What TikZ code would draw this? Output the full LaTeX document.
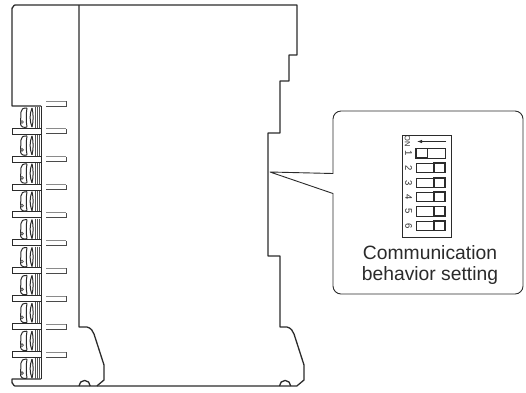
\documentclass[tikz,border=0pt]{standalone}
\usepackage{fontspec}
\usetikzlibrary{arrows.meta}
\setmainfont{Liberation Sans}
\definecolor{ink}{HTML}{2B2B2B}
\tikzset{
 body/.style={draw=ink,line width=1.3pt,line join=round},
 thin part/.style={draw=ink,line width=1pt,line join=round},
 bar/.style={draw=ink,line width=0.9pt,line join=miter},
 stripes/.style={draw=ink!80,line width=0.8pt},
 panel/.style={draw=ink,line width=0.9pt,line join=round,fill=white},
 knob/.style={draw=ink,line width=1.05pt},
 slot/.style={draw=ink,line width=0.85pt},
 dip/.style={font=\fontsize{9.5}{9.5}\selectfont,rotate=-90,inner sep=0pt,text=ink},
 onlabel/.style={font=\fontsize{7.5}{7.5}\selectfont,rotate=-90,inner sep=0pt,text=ink},
 caption/.style={font=\fontsize{19.3}{21.6}\selectfont,align=center,text=ink,inner sep=0pt}
}
\begin{document}
\begin{tikzpicture}[x=1pt,y=-1pt]
\useasboundingbox (0,0) rectangle (526,392);
% outer housing
\draw[body] (41,106) -- (12,106) -- (12,8) to[out=-90,in=180] (15,5) -- (297,5) -- (297,55) -- (289,55) -- (289,81) -- (280,81) -- (280,133) -- (268,133) -- (268,256) -- (280,256) -- (280,327) -- (287,327) .. controls (291,328) and (293,331) .. (294,334) -- (304,365) -- (304,380) -- (298,385) -- (297,386);
\draw[body] (79,5) -- (79,327) -- (87,327) .. controls (91,328) and (93,331) .. (94,334) -- (104,365) -- (104,380) -- (98,385) -- (97,386);
\draw[body] (41,379) -- (12,379) -- (12,383) to[out=90,in=180] (15,386) -- (297,386);
% feet
\draw[body] (79,386) arc[start angle=180,end angle=360,radius=5.6];
\draw[body] (279.5,386) arc[start angle=180,end angle=360,radius=5.6];
% terminal blocks
\foreach \k in {0,...,9}{
 \begin{scope}[yshift=-27.9*\k pt]
  \draw[thin part] (41,106) -- (41,128);
  \draw[thin part] (27,108) .. controls (23,108) and (21,109) .. (21,112) -- (20.5,124) .. controls (21,127) and (24,128) .. (27,127);
  \draw[thin part] (27,108) .. controls (26,113) and (26,122) .. (27,127);
  \draw[stripes] (22,122) circle[radius=1.4];
  \draw[thin part] (32,108) .. controls (29.5,114) and (29.5,121) .. (32,127);
  \draw[thin part] (32,108) .. controls (33.5,114) and (33.5,121) .. (32,127);
  \draw[stripes] (35,107) -- (35,128) (37,107) -- (37,128) (39,107) -- (39,128);
  \draw[draw=ink!55,line width=0.9pt] (46,101) -- (66,101);
  \draw[draw=ink!85,line width=0.9pt] (46,106) -- (66,106) -- (66,101);
 \end{scope}
}
\foreach \k in {0,...,8}{
 \draw[bar] (41,128.2+27.9*\k) -- (12,128.2+27.9*\k) -- (12,134.2+27.9*\k) -- (41,134.2+27.9*\k) -- cycle;
}
% callout
\draw[panel] (270,172) -- (333,173.5) -- (333,119) arc[start angle=180,end angle=270,radius=8] -- (515,111) arc[start angle=-90,end angle=0,radius=8] -- (523,286) arc[start angle=0,end angle=90,radius=8] -- (341,294) arc[start angle=90,end angle=180,radius=8] -- (333,193.5) -- cycle;
% DIP switch
\draw[slot] (402,135) rectangle (451,237);
\draw[slot,-{Latex[length=5pt,width=3.5pt]}] (446,141.5) -- (417,141.5);
\node[onlabel] (on) at (407.5,141.5) {ON};
\draw[slot] (416,148.5) rectangle (445,158);
\draw[knob] (416,148.5) rectangle (427.5,158);
\node[dip] (n1) at (408.7,153) {1};
\foreach \n/\y in {2/163,3/178,4/192,5/206.5,6/221}{
 \draw[slot] (416,\y) rectangle (445,\y+9.5);
 \draw[knob] (434,\y) rectangle (445,\y+9.5);
 \node[dip] (n\n) at (408.7,\y+4.7) {\n};
}
\node[caption] (label) at (430,265) {Communication\\behavior setting};
\end{tikzpicture}
\end{document}
